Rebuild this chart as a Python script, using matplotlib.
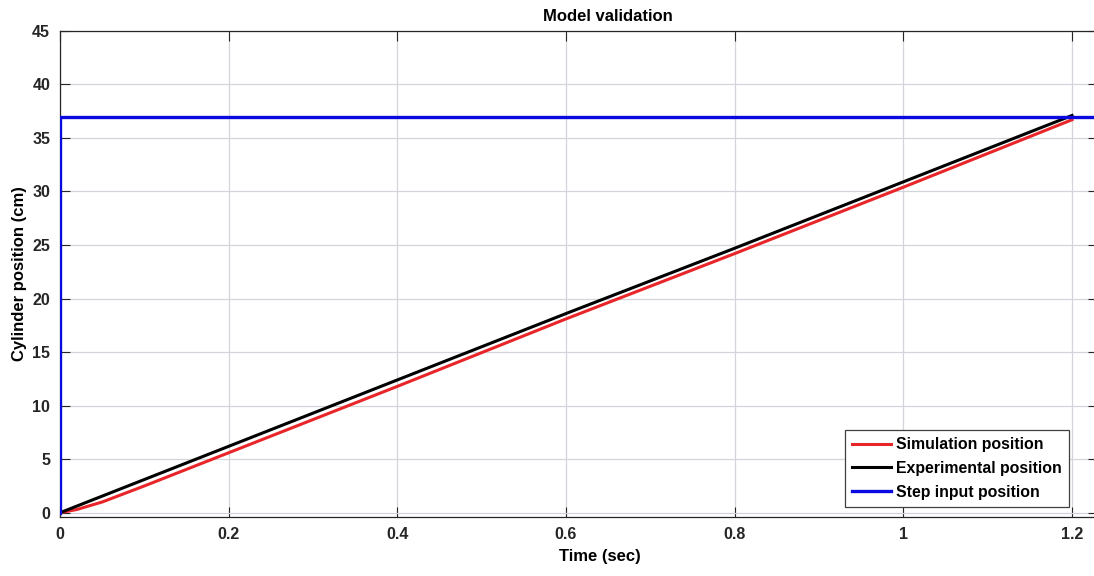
import matplotlib.pyplot as plt

plt.rcParams["font.family"] = ["Liberation Sans", "DejaVu Sans"]
plt.rcParams["font.weight"] = "bold"

# values
sim_time = [0.0, 0.02, 0.05, 0.1, 0.2, 0.4, 0.6, 0.8, 1.0, 1.2]
sim_pos = [0.0, 0.3, 1.0, 2.5, 5.6, 11.8, 18.1, 24.2, 30.4, 36.7]
exp_time = [0.0, 0.2, 0.4, 0.6, 0.8, 1.0, 1.2]
exp_pos = [0.0, 6.2, 12.4, 18.6, 24.7, 30.9, 37.1]
step_time = [0.0, 0.0, 1.3]
step_pos = [0.0, 37.0, 37.0]

x_ticks = [0, 0.2, 0.4, 0.6, 0.8, 1, 1.2]
x_tick_labels = ["0", "0.2", "0.4", "0.6", "0.8", "1", "1.2"]
y_ticks = [0, 5, 10, 15, 20, 25, 30, 35, 40, 45]


def main() -> None:
    fig = plt.figure(figsize=(10.94, 5.76), dpi=100)
    ax = fig.add_axes([0.0548, 0.1024, 0.949, 0.844])

    ax.plot(sim_time, sim_pos, color="#e8262a", lw=2.2, label="Simulation position", zorder=3)
    ax.plot(exp_time, exp_pos, color="black", lw=2.2, label="Experimental position", zorder=4)
    ax.plot(step_time, step_pos, color="#0a0ae0", lw=2.4, label="Step input position", zorder=5)

    ax.set_xlim(0, 1.231)
    ax.set_ylim(-0.4, 45)
    ax.set_xticks(x_ticks)
    ax.set_xticklabels(x_tick_labels)
    ax.set_yticks(y_ticks)
    ax.tick_params(direction="in", length=7, width=0.8, top=True, right=True,
                   labelsize=11.5, colors="#262626", pad=7)
    for label in ax.get_xticklabels() + ax.get_yticklabels():
        label.set_fontweight("bold")
    ax.grid(True, color="#d2d6dc", lw=0.9)
    ax.set_axisbelow(True)
    for spine in ax.spines.values():
        spine.set_color("#262626")
        spine.set_linewidth(0.9)

    ax.set_title("Model validation", fontsize=12, fontweight="bold", x=0.528, pad=7)
    ax.set_xlabel("Time (sec)", fontsize=12, fontweight="bold", x=0.52, labelpad=5)
    ax.set_ylabel("Cylinder position (cm)", fontsize=12, fontweight="bold", labelpad=4)

    leg = ax.legend(loc="lower right", bbox_to_anchor=(0.972, 0.021), borderaxespad=0,
                    fontsize=11.4, handlelength=2.5, handletextpad=0.3, borderpad=0.45,
                    labelspacing=0.55, fancybox=False, framealpha=1)
    leg.get_frame().set_edgecolor("#404040")
    leg.get_frame().set_linewidth(0.9)

    fig.savefig("out.png", dpi=100)
    plt.close(fig)


if __name__ == "__main__":
    main()
